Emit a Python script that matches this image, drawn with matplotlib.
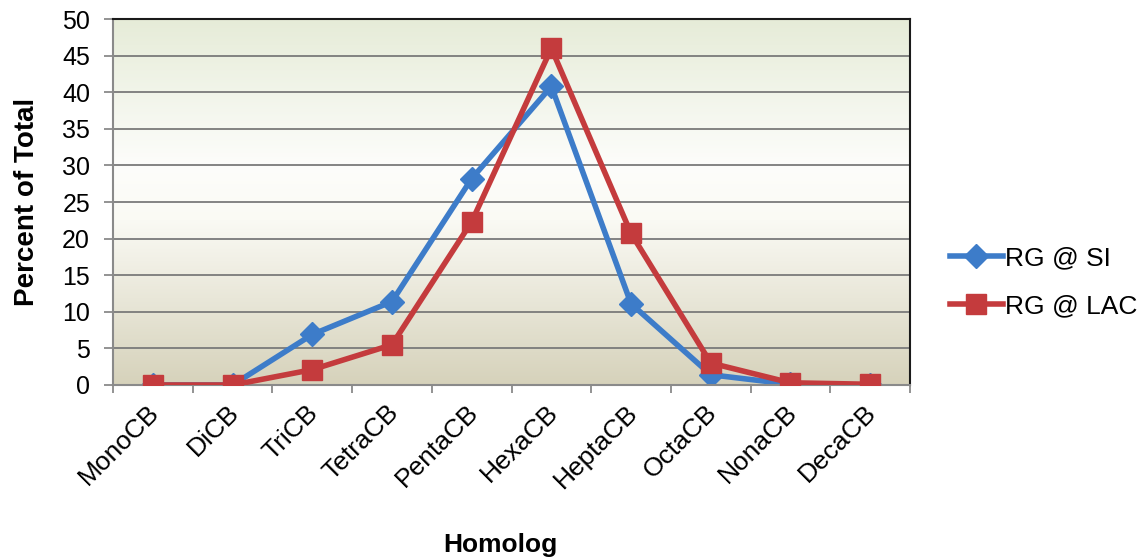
import matplotlib
matplotlib.use("Agg")
import matplotlib.pyplot as plt
import matplotlib.transforms as mtransforms
import numpy as np
from matplotlib.colors import LinearSegmentedColormap

categories = ["MonoCB", "DiCB", "TriCB", "TetraCB", "PentaCB", "HexaCB",
              "HeptaCB", "OctaCB", "NonaCB", "DecaCB"]
rg_si = [0.0, 0.0, 6.9, 11.4, 28.2, 40.8, 11.1, 1.4, 0.1, 0.0]
rg_lac = [0.0, 0.0, 2.1, 5.5, 22.3, 46.0, 20.7, 3.0, 0.3, 0.1]
yticks = [0, 5, 10, 15, 20, 25, 30, 35, 40, 45, 50]

plt.rcParams['font.family'] = ['Liberation Sans', 'DejaVu Sans']

fig = plt.figure(figsize=(11.46, 5.6), dpi=100)
ax = fig.add_axes([0.0986, 0.3125, 0.6955, 0.6535])

x = np.arange(len(categories))
ax.set_xlim(-0.5, len(categories) - 0.5)
ax.set_ylim(0, 50)

# gradient background
cmap = LinearSegmentedColormap.from_list(
    "bg", [(0.0, "#d6d2bb"), (0.45, "#fafaf4"), (0.6, "#fdfdfb"), (1.0, "#e6ecd8")])
grad = np.linspace(0, 1, 256).reshape(-1, 1)
ax.imshow(grad, cmap=cmap, aspect="auto", origin="lower",
          extent=[-0.5, len(categories) - 0.5, 0, 50], zorder=0)

for yv in yticks[1:]:
    ax.axhline(yv, color="#7a7a7a", lw=1.3, zorder=1)

ax.plot(x, rg_si, color="#3d7cc9", lw=4, marker="D", ms=12,
        label="RG @ SI", zorder=2)
ax.plot(x, rg_lac, color="#c43b3d", lw=4, marker="s", ms=15,
        label="RG @ LAC", zorder=3)

ax.set_yticks(yticks)
ax.set_yticklabels([str(v) for v in yticks], fontsize=18)
ax.set_xticks(x)
ax.set_xticklabels(categories, rotation=45, ha="right", rotation_mode="anchor",
                   fontsize=19)
ax.tick_params(axis="x", length=0, pad=6)
offset = mtransforms.ScaledTranslation(-6 / 100, -7 / 100, fig.dpi_scale_trans)
for lbl in ax.get_xticklabels():
    lbl.set_transform(lbl.get_transform() + offset)
ax.set_xticks(np.arange(-0.5, len(categories), 1), minor=True)
ax.tick_params(axis="x", which="minor", length=6, color="#8a8a8a", width=1.3)
ax.tick_params(axis="y", length=6.5, color="#8a8a8a", width=1.3, pad=10)

for s in ["left", "bottom"]:
    ax.spines[s].set_color("#8a8a8a")
    ax.spines[s].set_linewidth(1.5)
for s in ["top", "right"]:
    ax.spines[s].set_color("#1a1a1a")
    ax.spines[s].set_linewidth(1.5)

ax.set_ylabel("Percent of Total", fontsize=20, fontweight="bold", labelpad=16)
fig.text(0.437, 0.015, "Homolog", fontsize=19, fontweight="bold", ha="center")

leg = ax.legend(loc="center left", bbox_to_anchor=(1.02, 0.28), frameon=False,
                fontsize=19, handlelength=2.0, labelspacing=0.9,
                handletextpad=0.1)

fig.savefig("out.png", dpi=100)
